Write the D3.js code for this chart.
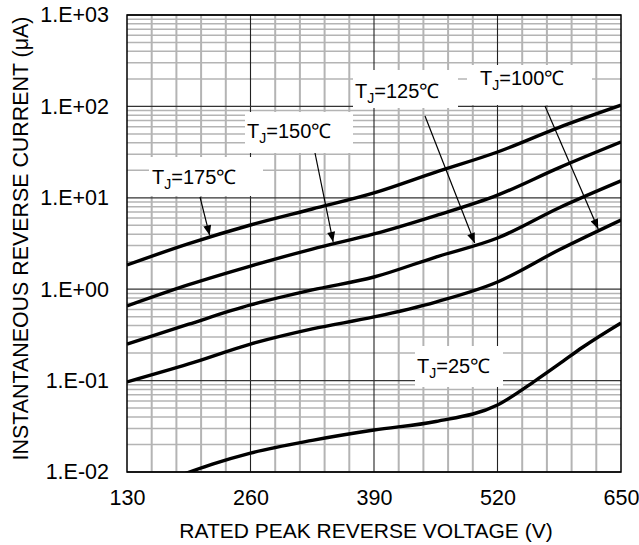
<!DOCTYPE html>
<html><head><meta charset="utf-8">
<script src="https://cdn.jsdelivr.net/npm/d3@7"></script>
<style>
html,body{margin:0;padding:0;background:#fff;}
svg{display:block;}
text{font-family:"Liberation Sans",Arial,sans-serif;fill:#000;}
</style></head>
<body>
<svg id="chart" width="639" height="545"></svg>
<script>
// ---- data ----
const voltages = [130, 195, 260, 325, 390, 455, 520, 585, 650];
const tj175 = [1.84, 3.15, 5.04, 7.54, 11.3, 19.1, 31.7, 59.0, 103];
const tj150 = [0.655, 1.12, 1.79, 2.75, 4.02, 6.39, 10.7, 21.4, 40.8];
const tj125 = [0.251, 0.414, 0.672, 0.982, 1.36, 2.25, 3.63, 7.78, 15.3];
const tj100 = [0.0966, 0.152, 0.251, 0.368, 0.497, 0.724, 1.20, 2.70, 5.71];
const voltages25 = [190, 220, 260, 325, 390, 455, 520, 560, 585, 610, 650];
const tj25 = [0.0095, 0.0122, 0.0161, 0.0222, 0.0288, 0.0357, 0.0541, 0.100, 0.152, 0.233, 0.427];
const xTicks = [130, 260, 390, 520, 650];
const yTicks = [0.01, 0.1, 1, 10, 100, 1000];
const yTickLabels = ["1.E-02", "1.E-01", "1.E+00", "1.E+01", "1.E+02", "1.E+03"];
const seriesNames = ["175", "150", "125", "100", "25"];
const xTitle = "RATED PEAK REVERSE VOLTAGE (V)";
const yTitle = "INSTANTANEOUS REVERSE CURRENT (\u03BCA)";
// arrow tip voltages on each labelled curve
const arrowTipV = [217, 347, 496, 626, null];

// ---- layout ----
const L = 127, R = 621, T = 15, B = 472;
const svg = d3.select("#chart");
const x = d3.scaleLinear().domain([130, 650]).range([L, R]);
const y = d3.scaleLog().domain([0.01, 1000]).range([B, T]);

const series = [
  {name: "175", v: voltages, i: tj175},
  {name: "150", v: voltages, i: tj150},
  {name: "125", v: voltages, i: tj125},
  {name: "100", v: voltages, i: tj100},
  {name: "25", v: voltages25, i: tj25}
];

// ---- grid ----
const grid = svg.append("g");
const minorV = d3.range(130, 651, 26).filter(v => v % 130 !== 0);
grid.selectAll(".mv").data(minorV).join("line")
  .attr("x1", d => x(d)).attr("x2", d => x(d)).attr("y1", T).attr("y2", B)
  .attr("stroke", "#b4b4b4").attr("stroke-width", 2);
const minorH = [];
for (let e = -2; e <= 2; e++) for (let k = 2; k <= 9; k++) minorH.push(k * Math.pow(10, e));
grid.selectAll(".mh").data(minorH).join("line")
  .attr("x1", L).attr("x2", R).attr("y1", d => y(d)).attr("y2", d => y(d))
  .attr("stroke", "#b4b4b4").attr("stroke-width", 1.5);
grid.selectAll(".Mv").data([260, 390, 520]).join("line")
  .attr("x1", d => x(d)).attr("x2", d => x(d)).attr("y1", T).attr("y2", B)
  .attr("stroke", "#222").attr("stroke-width", 1.1);
grid.selectAll(".Mh").data(yTicks).join("line")
  .attr("x1", L).attr("x2", R).attr("y1", d => y(d)).attr("y2", d => y(d))
  .attr("stroke", "#333").attr("stroke-width", 1.3);

// ---- curves ----
svg.append("clipPath").attr("id", "clip").append("rect")
  .attr("x", L).attr("y", T).attr("width", R - L).attr("height", B - T);
const line = d3.line().x(d => x(d[0])).y(d => y(d[1])).curve(d3.curveMonotoneX);
svg.append("g").attr("clip-path", "url(#clip)").selectAll("path").data(series).join("path")
  .attr("d", s => line(s.v.map((v, k) => [v, s.i[k]])))
  .attr("fill", "none").attr("stroke", "#000").attr("stroke-width", 3.4)
  .attr("stroke-linejoin", "round");

// ---- frame ----
svg.append("rect").attr("x", L).attr("y", T).attr("width", R - L).attr("height", B - T)
  .attr("fill", "none").attr("stroke", "#000").attr("stroke-width", 1.5);

// ---- axes ----
const xAxis = svg.append("g").attr("transform", `translate(0,${B})`)
  .call(d3.axisBottom(x).tickValues(xTicks).tickSize(0).tickPadding(18).tickFormat(d3.format("d")));
xAxis.select(".domain").remove();
xAxis.selectAll("text").attr("font-size", 21.5).attr("font-family", "Liberation Sans, Arial, sans-serif").attr("fill", "#000");
const yAxis = svg.append("g").attr("transform", `translate(${L},0)`)
  .call(d3.axisLeft(y).tickValues(yTicks).tickSize(0).tickPadding(18)
    .tickFormat((d, k) => yTickLabels[k]));
yAxis.select(".domain").remove();
yAxis.selectAll("text").attr("font-size", 21.5).attr("font-family", "Liberation Sans, Arial, sans-serif").attr("fill", "#000");

svg.append("text").attr("x", (L + R) / 2 - 8).attr("y", 538).attr("text-anchor", "middle")
  .attr("font-size", 21).text(xTitle);
svg.append("text").attr("transform", `translate(28,${(T + B) / 2 - 5}) rotate(-90)`)
  .attr("text-anchor", "middle").attr("font-size", 21.4).text(yTitle);

// ---- annotations ----
function valueAt(s, v) {
  for (let k = 0; k < s.v.length - 1; k++) {
    if (v >= s.v[k] && v <= s.v[k + 1]) {
      const t = (v - s.v[k]) / (s.v[k + 1] - s.v[k]);
      return Math.pow(10, Math.log10(s.i[k]) * (1 - t) + Math.log10(s.i[k + 1]) * t);
    }
  }
  return s.i[s.i.length - 1];
}
// label boxes: [boxX, boxY, boxW, boxH, textX, baseline, tailX, tailY]
const labelLayout = [
  [149, 157, 114, 39, 152, 184, 200, 197],
  [245, 112, 108, 41, 247, 138, 315, 153],
  [353, 70, 105, 38, 355, 98, 425, 116],
  [467, 65, 125, 40, 480, 85, 545, 106],
  [415, 346, 88, 41, 417, 373, null, null]
];
svg.append("defs").append("marker").attr("id", "ah")
  .attr("viewBox", "0 0 10 8").attr("refX", 10).attr("refY", 4)
  .attr("markerWidth", 11).attr("markerHeight", 8).attr("markerUnits", "userSpaceOnUse")
  .attr("orient", "auto")
  .append("path").attr("d", "M0,0 L10,4 L0,8 Z").attr("fill", "#000");

const ann = svg.append("g");
series.forEach((s, k) => {
  const [bx, by, bw, bh, tx, tb, ax, ay] = labelLayout[k];
  ann.append("rect").attr("x", bx).attr("y", by).attr("width", bw).attr("height", bh).attr("fill", "#fff");
  const t = ann.append("text").attr("x", tx).attr("y", tb).attr("font-size", 20);
  t.append("tspan").text("T");
  t.append("tspan").attr("font-size", 14).attr("dy", 5).text("J");
  t.append("tspan").attr("dy", -5).text("=" + seriesNames[k] + "\u2103");
  if (arrowTipV[k] != null) {
    const tv = arrowTipV[k];
    ann.append("line").attr("x1", ax).attr("y1", ay)
      .attr("x2", x(tv)).attr("y2", y(valueAt(s, tv)) - 2)
      .attr("stroke", "#000").attr("stroke-width", 1.2).attr("marker-end", "url(#ah)");
  }
});
</script>
</body></html>
